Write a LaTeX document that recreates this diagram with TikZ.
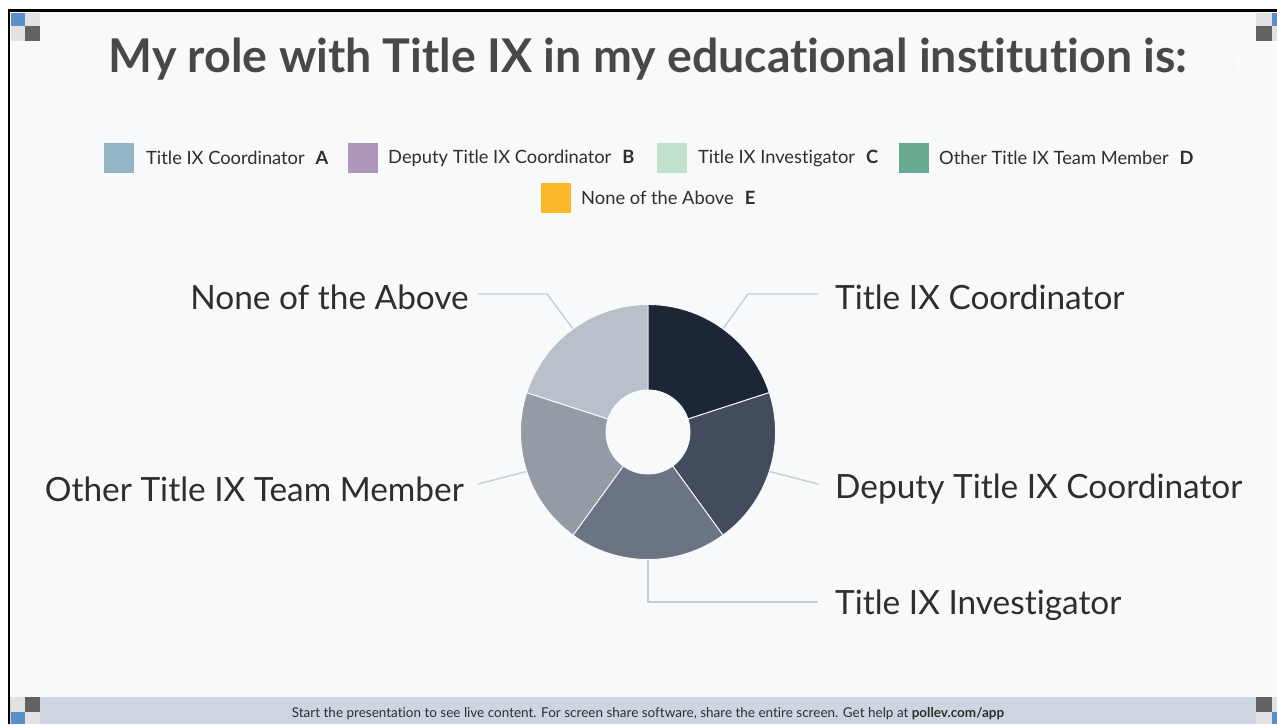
\documentclass[tikz,border=0pt]{standalone}
\usepackage{fontspec}
\setmainfont{Lato}[Ligatures=NoCommon]
\definecolor{bg}{HTML}{F8F9FB}
\definecolor{foot}{HTML}{CDD5E0}
\definecolor{ttl}{HTML}{484848}
\definecolor{txt}{HTML}{2E2E2E}
\definecolor{sA}{HTML}{1C2637}
\definecolor{sB}{HTML}{434C5C}
\definecolor{sC}{HTML}{6B7483}
\definecolor{sD}{HTML}{959BA5}
\definecolor{sE}{HTML}{B9C0CA}
\definecolor{lA}{HTML}{93B5C6}
\definecolor{lB}{HTML}{AE97B8}
\definecolor{lC}{HTML}{C0E2CC}
\definecolor{lD}{HTML}{67AA90}
\definecolor{lE}{HTML}{FBB829}
\definecolor{leader}{HTML}{C6CBD2}
\definecolor{cblue}{HTML}{5B8FCB}
\definecolor{clight}{HTML}{E2E2E2}
\definecolor{cdark}{HTML}{626262}
\tikzset{
  swatch/.style={fill=#1, draw=none, minimum width=30pt, minimum height=30pt, inner sep=0pt},
  legtext/.style={text=txt, font=\fontsize{18.3}{21}\selectfont, inner sep=0pt, anchor=west},
  bigtext/.style={text=txt, font=\fontsize{33.4}{38}\selectfont, inner sep=0pt},
  leaderline/.style={draw=leader, line width=1.3pt},
  slice/.style={fill=#1, draw=bg, line width=0.9pt},
}
\begin{document}
\begin{tikzpicture}[x=1pt,y=-1pt]
\useasboundingbox (0,0) rectangle (1277,724);
\fill[white] (0,0) rectangle (1277,724);
\fill[bg] (10,11.5) rectangle (1277,724);
\fill[foot] (10,697) rectangle (1277,724);
\fill[black] (7.5,9) rectangle (10,724);
\fill[black] (7.5,9) rectangle (1277,11.5);
% corner blocks
\fill[cblue] (11,12.5) rectangle (24.5,26);
\fill[clight] (24.5,12.5) rectangle (40,26);
\fill[clight] (11,26) rectangle (24.5,41);
\fill[cdark] (24.5,26) rectangle (40,41);
\fill[clight] (1256,12.5) rectangle (1271.5,26);
\fill[cblue] (1271.5,12.5) rectangle (1277,26);
\fill[cdark] (1256,26) rectangle (1271.5,41);
\fill[clight] (1271.5,26) rectangle (1277,41);
\fill[clight] (11,697) rectangle (24.5,712);
\fill[cdark] (24.5,697) rectangle (40,712);
\fill[cblue] (11,712) rectangle (24.5,724);
\fill[clight] (24.5,712) rectangle (40,724);
\fill[cdark] (1256,697) rectangle (1271.5,712);
\fill[clight] (1271.5,697) rectangle (1277,712);
\fill[clight] (1256,712) rectangle (1271.5,724);
\fill[cblue] (1271.5,712) rectangle (1277,724);
% title
\node[text=ttl, font=\fontsize{46.5}{52}\bfseries\selectfont, inner sep=0pt] (title) at (648,59) {My role with Title IX in my educational institution is:};
\node[text=white!85!bg, font=\fontsize{20}{24}\selectfont, inner sep=0pt] (count) at (1232,62) {51};
% legend
\node[swatch=lA] (swA) at (119,158) {};
\node[legtext] (ltA) at (146,158) {Title IX Coordinator\hspace{11pt}\textbf{A}};
\node[swatch=lB] (swB) at (363,158) {};
\node[legtext] (ltB) at (388,158) {Deputy Title IX Coordinator\hspace{11pt}\textbf{B}};
\node[swatch=lC] (swC) at (672,158) {};
\node[legtext] (ltC) at (698,158) {Title IX Investigator\hspace{11pt}\textbf{C}};
\node[swatch=lD] (swD) at (914,158) {};
\node[legtext] (ltD) at (939,158) {Other Title IX Team Member\hspace{11pt}\textbf{D}};
\node[swatch=lE] (swE) at (556,198) {};
\node[legtext] (ltE) at (581,198) {None of the Above\hspace{11pt}\textbf{E}};
% donut
\begin{scope}[shift={(648,432)}, yscale=-1]
  \foreach \s/\c in {90/sA,18/sB,-54/sC,-126/sD,-198/sE}{
    \pgfmathsetmacro{\e}{\s-72}
    \path[slice=\c] (\s:42) -- (\s:127.5) arc[start angle=\s, end angle=\e, radius=127.5] -- (\e:42) arc[start angle=\e, end angle=\s, radius=42] -- cycle;
  }
  \fill[bg] (0,0) circle[radius=42];
  \coordinate (pA) at (54:128);
  \coordinate (pB) at (-18:128);
  \coordinate (pC) at (-90:128);
  \coordinate (pD) at (-162:128);
  \coordinate (pE) at (126:128);
\end{scope}
\coordinate (eA) at (818,294);
\coordinate (eB) at (818,484);
\coordinate (eC) at (818,602);
\coordinate (eD) at (478,484);
\coordinate (eE) at (478,294);
% labels
\node[bigtext, anchor=west] (labA) at (835,297) {Title IX Coordinator};
\node[bigtext, anchor=west] (labB) at (835,489) {Deputy Title IX Coordinator};
\node[bigtext, anchor=west] (labC) at (835,605) {Title IX Investigator};
\node[bigtext, anchor=east] (labD) at (464,489) {Other Title IX Team Member};
\node[bigtext, anchor=east] (labE) at (469,297) {None of the Above};
% leaders
\draw[leaderline] (pA) -- (748,294) -- (eA);
\draw[leaderline] (pB) -- (eB);
\draw[leaderline] (pC) -- (648,602) -- (eC);
\draw[leaderline] (pD) -- (eD);
\draw[leaderline] (pE) -- (547,294) -- (eE);
% footer
\node[text=txt, font=\fontsize{13.5}{16}\selectfont, inner sep=0pt] (footer) at (648,714) {Start the presentation to see live content. For screen share software, share the entire screen. Get help at \textbf{pollev.com/app}};
\end{tikzpicture}
\end{document}
